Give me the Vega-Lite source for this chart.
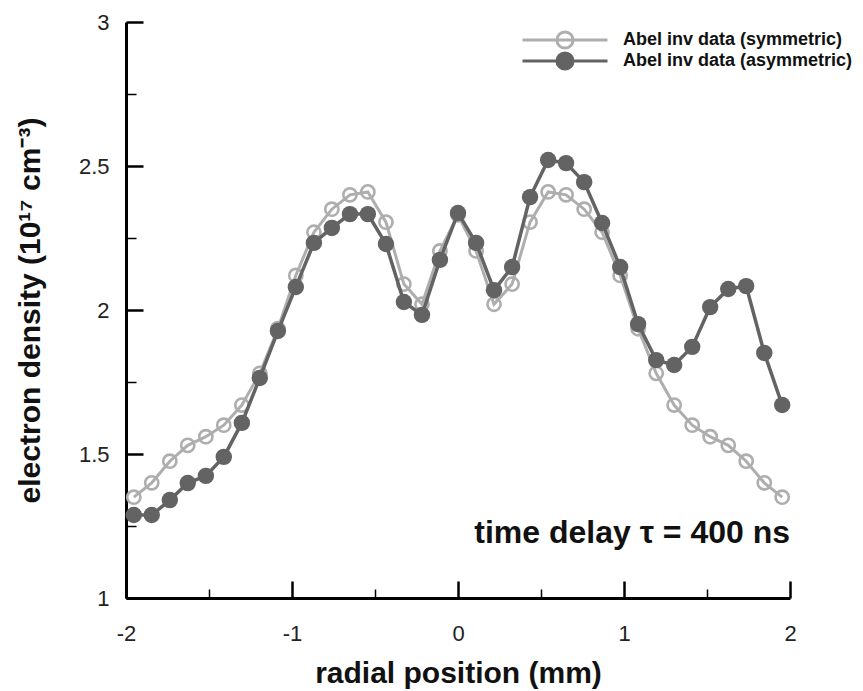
{
  "$schema": "https://vega.github.io/schema/vega-lite/v6.json",
  "width": 664,
  "height": 576,
  "autosize": {"type": "none"},
  "padding": {"left": 126, "top": 22, "right": 73, "bottom": 93},
  "background": "white",
  "config": {
    "view": {"stroke": null},
    "font": "Liberation Sans",
    "axis": {"grid": false}
  },
  "datasets": {
    "profiles": [
      {"x": -1.953, "y": 1.35, "series": "Abel inv data (symmetric)"},
      {"x": -1.845, "y": 1.40, "series": "Abel inv data (symmetric)"},
      {"x": -1.736, "y": 1.475, "series": "Abel inv data (symmetric)"},
      {"x": -1.628, "y": 1.53, "series": "Abel inv data (symmetric)"},
      {"x": -1.519, "y": 1.56, "series": "Abel inv data (symmetric)"},
      {"x": -1.411, "y": 1.60, "series": "Abel inv data (symmetric)"},
      {"x": -1.302, "y": 1.67, "series": "Abel inv data (symmetric)"},
      {"x": -1.194, "y": 1.78, "series": "Abel inv data (symmetric)"},
      {"x": -1.085, "y": 1.935, "series": "Abel inv data (symmetric)"},
      {"x": -0.977, "y": 2.12, "series": "Abel inv data (symmetric)"},
      {"x": -0.868, "y": 2.27, "series": "Abel inv data (symmetric)"},
      {"x": -0.760, "y": 2.35, "series": "Abel inv data (symmetric)"},
      {"x": -0.651, "y": 2.40, "series": "Abel inv data (symmetric)"},
      {"x": -0.543, "y": 2.41, "series": "Abel inv data (symmetric)"},
      {"x": -0.434, "y": 2.305, "series": "Abel inv data (symmetric)"},
      {"x": -0.326, "y": 2.09, "series": "Abel inv data (symmetric)"},
      {"x": -0.217, "y": 2.02, "series": "Abel inv data (symmetric)"},
      {"x": -0.109, "y": 2.205, "series": "Abel inv data (symmetric)"},
      {"x": 0, "y": 2.33, "series": "Abel inv data (symmetric)"},
      {"x": 0.109, "y": 2.205, "series": "Abel inv data (symmetric)"},
      {"x": 0.217, "y": 2.02, "series": "Abel inv data (symmetric)"},
      {"x": 0.326, "y": 2.09, "series": "Abel inv data (symmetric)"},
      {"x": 0.434, "y": 2.305, "series": "Abel inv data (symmetric)"},
      {"x": 0.543, "y": 2.41, "series": "Abel inv data (symmetric)"},
      {"x": 0.651, "y": 2.40, "series": "Abel inv data (symmetric)"},
      {"x": 0.760, "y": 2.35, "series": "Abel inv data (symmetric)"},
      {"x": 0.868, "y": 2.27, "series": "Abel inv data (symmetric)"},
      {"x": 0.977, "y": 2.12, "series": "Abel inv data (symmetric)"},
      {"x": 1.085, "y": 1.935, "series": "Abel inv data (symmetric)"},
      {"x": 1.194, "y": 1.78, "series": "Abel inv data (symmetric)"},
      {"x": 1.302, "y": 1.67, "series": "Abel inv data (symmetric)"},
      {"x": 1.411, "y": 1.60, "series": "Abel inv data (symmetric)"},
      {"x": 1.519, "y": 1.56, "series": "Abel inv data (symmetric)"},
      {"x": 1.628, "y": 1.53, "series": "Abel inv data (symmetric)"},
      {"x": 1.736, "y": 1.475, "series": "Abel inv data (symmetric)"},
      {"x": 1.845, "y": 1.40, "series": "Abel inv data (symmetric)"},
      {"x": 1.953, "y": 1.35, "series": "Abel inv data (symmetric)"},
      {"x": -1.953, "y": 1.288, "series": "Abel inv data (asymmetric)"},
      {"x": -1.845, "y": 1.288, "series": "Abel inv data (asymmetric)"},
      {"x": -1.736, "y": 1.340, "series": "Abel inv data (asymmetric)"},
      {"x": -1.628, "y": 1.399, "series": "Abel inv data (asymmetric)"},
      {"x": -1.519, "y": 1.424, "series": "Abel inv data (asymmetric)"},
      {"x": -1.411, "y": 1.490, "series": "Abel inv data (asymmetric)"},
      {"x": -1.302, "y": 1.608, "series": "Abel inv data (asymmetric)"},
      {"x": -1.194, "y": 1.764, "series": "Abel inv data (asymmetric)"},
      {"x": -1.085, "y": 1.927, "series": "Abel inv data (asymmetric)"},
      {"x": -0.977, "y": 2.080, "series": "Abel inv data (asymmetric)"},
      {"x": -0.868, "y": 2.233, "series": "Abel inv data (asymmetric)"},
      {"x": -0.760, "y": 2.285, "series": "Abel inv data (asymmetric)"},
      {"x": -0.651, "y": 2.333, "series": "Abel inv data (asymmetric)"},
      {"x": -0.543, "y": 2.333, "series": "Abel inv data (asymmetric)"},
      {"x": -0.434, "y": 2.229, "series": "Abel inv data (asymmetric)"},
      {"x": -0.326, "y": 2.028, "series": "Abel inv data (asymmetric)"},
      {"x": -0.217, "y": 1.983, "series": "Abel inv data (asymmetric)"},
      {"x": -0.109, "y": 2.174, "series": "Abel inv data (asymmetric)"},
      {"x": 0, "y": 2.337, "series": "Abel inv data (asymmetric)"},
      {"x": 0.109, "y": 2.233, "series": "Abel inv data (asymmetric)"},
      {"x": 0.217, "y": 2.069, "series": "Abel inv data (asymmetric)"},
      {"x": 0.326, "y": 2.149, "series": "Abel inv data (asymmetric)"},
      {"x": 0.434, "y": 2.392, "series": "Abel inv data (asymmetric)"},
      {"x": 0.543, "y": 2.521, "series": "Abel inv data (asymmetric)"},
      {"x": 0.651, "y": 2.510, "series": "Abel inv data (asymmetric)"},
      {"x": 0.760, "y": 2.444, "series": "Abel inv data (asymmetric)"},
      {"x": 0.868, "y": 2.302, "series": "Abel inv data (asymmetric)"},
      {"x": 0.977, "y": 2.149, "series": "Abel inv data (asymmetric)"},
      {"x": 1.085, "y": 1.951, "series": "Abel inv data (asymmetric)"},
      {"x": 1.194, "y": 1.826, "series": "Abel inv data (asymmetric)"},
      {"x": 1.302, "y": 1.809, "series": "Abel inv data (asymmetric)"},
      {"x": 1.411, "y": 1.872, "series": "Abel inv data (asymmetric)"},
      {"x": 1.519, "y": 2.010, "series": "Abel inv data (asymmetric)"},
      {"x": 1.628, "y": 2.073, "series": "Abel inv data (asymmetric)"},
      {"x": 1.736, "y": 2.083, "series": "Abel inv data (asymmetric)"},
      {"x": 1.845, "y": 1.851, "series": "Abel inv data (asymmetric)"},
      {"x": 1.953, "y": 1.670, "series": "Abel inv data (asymmetric)"}
    ],
    "notes": [
      {"note": "time delay τ = 400 ns"}
    ]
  },
  "layer": [
    {
      "data": {"name": "profiles"},
      "encoding": {
        "x": {
          "field": "x",
          "type": "quantitative",
          "scale": {"domain": [-2, 2], "nice": false, "zero": false},
          "axis": {
            "title": "radial position (mm)",
            "titleFontSize": 30,
            "titleFontWeight": "bold",
            "titleColor": "#111111",
            "titlePadding": 6,
            "values": [-2, -1.5, -1, -0.5, 0, 0.5, 1, 1.5, 2],
            "labelExpr": "datum.value % 1 == 0 ? ('' + datum.value) : ''",
            "labelFlush": false,
            "labelOverlap": false,
            "labelFontSize": 22,
            "labelColor": "#222222",
            "labelPadding": 42,
            "domainColor": "#000000",
            "domainWidth": 3,
            "tickColor": "#000000",
            "tickSize": {"condition": {"test": "datum.value % 1 == 0", "value": -17}, "value": -9},
            "tickWidth": {"condition": {"test": "datum.value % 1 == 0", "value": 2.5}, "value": 1.5}
          }
        },
        "y": {
          "field": "y",
          "type": "quantitative",
          "scale": {"domain": [1, 3], "nice": false, "zero": false},
          "axis": {
            "title": "electron density (10¹⁷ cm⁻³)",
            "titleFontSize": 30,
            "titleFontWeight": "bold",
            "titleColor": "#111111",
            "titlePadding": 33,
            "values": [1, 1.25, 1.5, 1.75, 2, 2.25, 2.5, 2.75, 3],
            "labelExpr": "(datum.value * 2) % 1 == 0 ? ('' + datum.value) : ''",
            "labelFlush": false,
            "labelOverlap": false,
            "labelFontSize": 22,
            "labelColor": "#222222",
            "labelPadding": 34,
            "domainColor": "#000000",
            "domainWidth": 3,
            "tickColor": "#000000",
            "tickSize": {"condition": {"test": "(datum.value * 2) % 1 == 0", "value": -17}, "value": -10},
            "tickWidth": {"condition": {"test": "(datum.value * 2) % 1 == 0", "value": 2.5}, "value": 1.5}
          }
        }
      },
      "layer": [
        {
          "transform": [{"filter": "datum.series === 'Abel inv data (symmetric)'"}],
          "mark": {"type": "line", "strokeWidth": 3},
          "encoding": {
            "color": {
              "field": "series",
              "type": "nominal",
              "scale": {
                "domain": ["Abel inv data (symmetric)", "Abel inv data (asymmetric)"],
                "range": ["#aeaeae", "#636363"]
              },
              "legend": {
                "title": null,
                "orient": "none",
                "legendX": 395,
                "legendY": 8,
                "padding": 0,
                "symbolType": "M-1,0H1M0.19,0A0.19,0.19 0 1,1 -0.19,0A0.19,0.19 0 1,1 0.19,0Z",
                "symbolSize": 7225,
                "symbolStrokeWidth": 3,
                "clipHeight": 20,
                "rowPadding": 1,
                "labelOffset": 14,
                "labelFontSize": 18,
                "labelFontWeight": "bold",
                "labelColor": "#111111",
                "labelLimit": 400,
                "encode": {
                  "symbols": {
                    "update": {
                      "fill": {"signal": "datum.value === 'Abel inv data (asymmetric)' ? '#636363' : 'transparent'"},
                      "stroke": {"signal": "datum.value === 'Abel inv data (asymmetric)' ? '#636363' : '#aeaeae'"},
                      "strokeWidth": {"value": 3}
                    }
                  }
                }
              }
            }
          }
        },
        {
          "transform": [{"filter": "datum.series === 'Abel inv data (symmetric)'"}],
          "mark": {"type": "point", "shape": "circle", "filled": false, "stroke": "#aeaeae", "strokeWidth": 2.6, "size": 175, "opacity": 1}
        },
        {
          "transform": [{"filter": "datum.series === 'Abel inv data (asymmetric)'"}],
          "mark": {"type": "line", "strokeWidth": 3.5},
          "encoding": {
            "color": {"field": "series", "type": "nominal"}
          }
        },
        {
          "transform": [{"filter": "datum.series === 'Abel inv data (asymmetric)'"}],
          "mark": {"type": "point", "shape": "circle", "filled": true, "fill": "#636363", "size": 270, "opacity": 1}
        }
      ]
    },
    {
      "data": {"name": "notes"},
      "mark": {"type": "text", "align": "right", "baseline": "alphabetic", "fontSize": 32, "fontWeight": "bold", "fill": "#111111"},
      "encoding": {
        "x": {"datum": 2, "type": "quantitative"},
        "y": {"datum": 1.19, "type": "quantitative"},
        "text": {"field": "note", "type": "nominal"}
      }
    }
  ]
}
